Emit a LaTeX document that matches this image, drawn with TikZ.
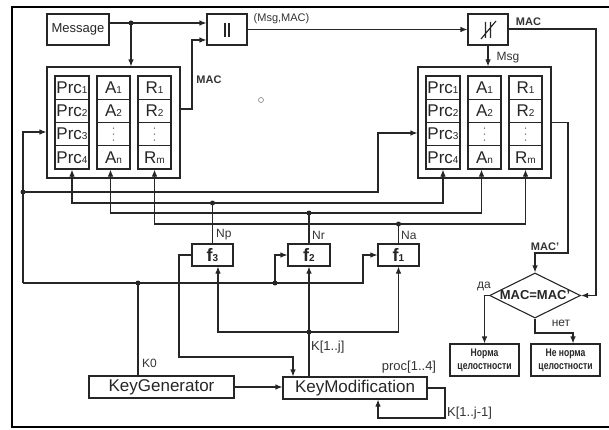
\documentclass[tikz,border=0pt]{standalone}
\usepackage{fontspec}
\setmainfont{Liberation Sans}
\newfontfamily\narrowfont[FakeStretch=0.78]{Liberation Sans}
\usetikzlibrary{arrows.meta,shapes.geometric}
\newcommand\cellsub[1]{{\fontsize{10}{10}\selectfont #1}}
\tikzset{
  wire/.style={draw=black!85,line width=1.1pt},
  arr/.style={wire,-{Latex[length=7pt,width=5.5pt]}},
  biarr/.style={wire,{Latex[length=7pt,width=5.5pt]}-{Latex[length=7pt,width=5.5pt]}},
  box/.style={wire,inner sep=0pt,minimum height=22pt,text=black!85},
  cell/.style={box,minimum height=23.25pt,font=\fontsize{17}{17}\selectfont},
  lbl/.style={text=black!80,inner sep=0pt,font=\fontsize{12}{12}\selectfont},
  blbl/.style={lbl,font=\bfseries\fontsize{11}{11}\selectfont},
}
\begin{document}
\begin{tikzpicture}[x=1pt,y=-1pt]
\useasboundingbox (0,0) rectangle (609,430);
\draw[line width=2.5pt,black] (615,7) -- (12,7) -- (12,427) -- (615,427);

\node[box,minimum width=62pt,minimum height=31pt,font=\fontsize{13}{13}\selectfont] (msg) at (78,29.5) {Message};
\node[box,minimum width=40pt,minimum height=31pt] (cat) at (227,29.5) {};
\node[box,minimum width=40pt,minimum height=31pt] (split) at (488,29.5) {};
\draw[wire] (225,23) -- (225,37) (229,23) -- (229,37);
\draw[wire] (485.5,22) -- (485.5,38) (490.5,22) -- (490.5,38) (481,39) -- (496,21);

\foreach \s/\x in {L/47,R/418}{
  \node[box,minimum width=133pt,minimum height=111pt] (store\s) at (\x+66.5,122.5) {};
  \foreach \i/\y/\ta/\tr in {1/87.6/A\cellsub{1}/R\cellsub{1},2/110.9/A\cellsub{2}/R\cellsub{2},3/134.1//,4/157.4/A\cellsub{n}/R\cellsub{m}}{
    \node[cell,minimum width=34pt] (\s-p\i) at (\x+25,\y) {Prc\cellsub{\i}};
    \node[cell,minimum width=33pt] (\s-a\i) at (\x+66.5,\y) {\ta};
    \node[cell,minimum width=33pt] (\s-r\i) at (\x+107.5,\y) {\tr};
  }
  \foreach \c in {a,r}
    \foreach \d in {-6,0,6}
      \fill[black!60] ([yshift=\d pt]\s-\c3.center) circle (0.8pt);
}
\draw[black!50,line width=0.6pt] (261,100) circle (2.5pt);

\node[box,minimum width=41pt,font=\bfseries\fontsize{18}{18}\selectfont] (f3) at (212.5,255) {f\cellsub{3}};
\node[box,minimum width=42pt,font=\bfseries\fontsize{18}{18}\selectfont] (f2) at (309,255) {f\cellsub{2}};
\node[box,minimum width=41pt,font=\bfseries\fontsize{18}{18}\selectfont] (f1) at (398.5,255) {f\cellsub{1}};
\node[box,minimum width=145pt,font=\fontsize{17}{17}\selectfont] (keygen) at (161.5,387) {KeyGenerator};
\node[box,minimum width=144pt,font=\fontsize{17}{17}\selectfont] (keymod) at (355,388) {KeyModification};
\node[wire,diamond,aspect=2,minimum width=91pt,minimum height=45pt,inner sep=0pt,text=black!85,font=\bfseries\fontsize{13}{13}\selectfont] (check) at (535,295.5) {MAC=MAC'};
\node[box,minimum width=69pt,minimum height=32pt,align=center,font=\narrowfont\bfseries\fontsize{11}{13}\selectfont] (yes) at (484.5,360) {Норма\\целостности};
\node[box,minimum width=69pt,minimum height=32pt,align=center,font=\narrowfont\bfseries\fontsize{11}{13}\selectfont] (no) at (565.5,360) {Не норма\\целостности};

\coordinate (jm) at (131,23);
\coordinate (macL) at (192,109);
\coordinate (macR) at (596,29);
\coordinate (macP) at (568,253);
\coordinate (noB) at (573,333);
\coordinate (kL) at (23,283);
\coordinate (jL) at (23,192);
\coordinate (k0) at (138,283);
\coordinate (kf2) at (275,283);
\coordinate (fb) at (179,357);
\coordinate (kj) at (309,332);
\coordinate (lp) at (445,418);
\coordinate (np) at (f3.north |- 0,203);
\coordinate (nr) at (f2.north |- 0,213);
\coordinate (na) at (f1.north |- 0,224);
\coordinate (La) at ([xshift=-3pt]L-a4.south);
\coordinate (Ra) at ([xshift=-3pt]R-a4.south);

\draw[arr] (msg.east |- jm) -- (jm) -- (cat.west |- jm);
\draw[arr] (jm) -- (jm |- storeL.north);
\draw[arr] (storeL.east |- macL) -- (macL) |- (cat.west |- 0,40);
\draw[arr] (cat.east) -- (split.west);
\draw[arr] (split.south) -- (split.south |- storeR.north);
\draw[arr] (split.east |- macR) -- (macR) |- (check.east);
\draw[arr] (storeR.east) -| (macP) -| (check.north);
\draw[arr] (check.west) -| (yes.north);
\draw[arr] (check.south) |- (noB) -- (noB |- no.north);

\draw[arr] (kL) |- (storeL.west |- 0,132);
\draw[arr] (jL) -- (378,192) |- (storeR.west |- 0,133);
\draw[biarr] (L-p4.south) |- (R-p4.south |- np) -- (R-p4.south);
\draw[biarr] (La) |- (Ra |- nr) -- (Ra);
\draw[biarr] (L-r4.south) |- (R-r4.south |- na) -- (R-r4.south);
\draw[wire] (f3.north) -- (np);
\draw[wire] (f2.north) -- (nr);
\draw[wire] (f1.north) -- (na);

\draw[wire] (k0 |- keygen.north) -- (k0);
\draw[arr] (kL) -- (363,283) |- (f1.west);
\draw[arr] (kf2) |- (f2.west);
\draw[arr] (f3.west) -| (fb) -| (keymod.north -| 293,0);
\draw[arr] (kj |- keymod.north) -- (f2.south);
\draw[arr] (kj) -| ([xshift=5.5pt]f3.south);
\draw[arr] (kj) -| (f1.south);
\draw[arr] (keygen.east) -- (keymod.west |- keygen.east);
\draw[arr] (keymod.east) -| (lp) -| ([xshift=23pt]keymod.south);

\foreach \p in {jm,jL,k0,kf2,kj,np,nr,na}
  \fill[black!85] (\p) circle (2.5pt);

\node[blbl] (tmacl) at (209,80) {MAC};
\node[lbl,font=\fontsize{11}{11}\selectfont] (tpair) at (281.5,19) {(Msg,MAC)};
\node[blbl] (tmacr) at (528.5,22) {MAC};
\node[lbl] (tmsg) at (508,58) {Msg};
\node[blbl] (tmacp) at (545,247) {MAC'};
\node[lbl] (tyes) at (484,286) {да};
\node[lbl] (tno) at (561,323) {нет};
\node[lbl,anchor=west] (tnp) at (216,235) {Np};
\node[lbl,anchor=west] (tnr) at (312,235) {Nr};
\node[lbl,anchor=west] (tna) at (401,235) {Na};
\node[lbl,anchor=west] (tk0) at (142,363) {K0};
\node[lbl,anchor=west,font=\fontsize{13}{13}\selectfont] (tkj) at (311,347) {K[1..j]};
\node[lbl,font=\fontsize{13}{13}\selectfont] (tproc) at (409,367) {proc[1..4]};
\node[lbl,anchor=west,font=\fontsize{13}{13}\selectfont] (tkj1) at (447,413) {K[1..j-1]};
\end{tikzpicture}
\end{document}
